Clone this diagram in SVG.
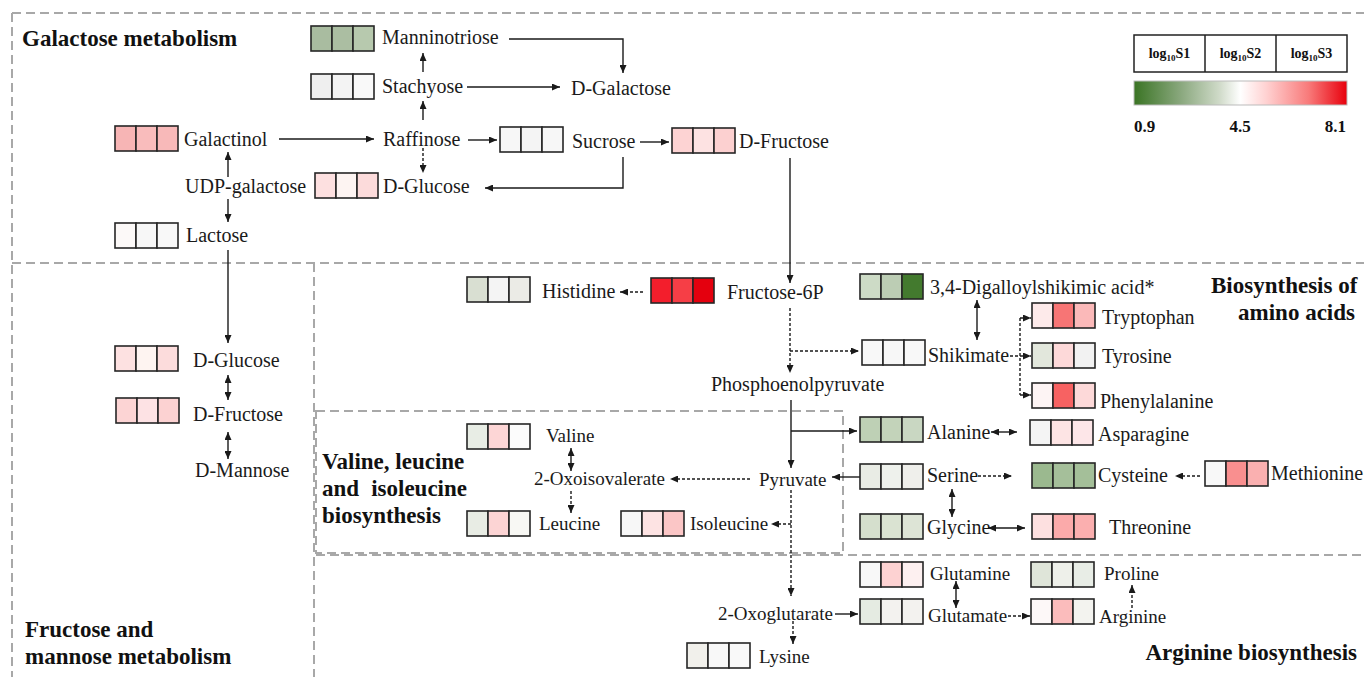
<svg xmlns="http://www.w3.org/2000/svg" width="1364" height="677" viewBox="0 0 1364 677">
<style>
.bg{fill:#ffffff}
.reg{fill:none;stroke:#a8a8a8;stroke-width:2;stroke-dasharray:9 5}
.c{stroke:#262626;stroke-width:1.6}
.t{font-family:"Liberation Serif","Times New Roman",serif;font-size:20px;fill:#1a1a1a}
.ts{font-family:"Liberation Serif","Times New Roman",serif;font-size:19px;fill:#1a1a1a}
.h{font-family:"Liberation Serif","Times New Roman",serif;font-size:23px;font-weight:bold;fill:#111}
.lg{font-family:"Liberation Serif","Times New Roman",serif;font-size:14px;font-weight:bold;fill:#111}
.lv{font-family:"Liberation Serif","Times New Roman",serif;font-size:17px;font-weight:bold;fill:#111}
.ln{fill:none;stroke:#1a1a1a;stroke-width:1.4}
.ds{stroke-dasharray:3 2}
.a{marker-end:url(#ar)}
.aa{marker-end:url(#ar);marker-start:url(#ar)}
</style>
<defs>
<marker id="ar" viewBox="0 0 8 7" refX="8" refY="3.5" markerWidth="8" markerHeight="7" markerUnits="userSpaceOnUse" orient="auto-start-reverse">
<path d="M0,0 L8,3.5 L0,7 z" fill="#1a1a1a"/>
</marker>
<linearGradient id="grad" x1="0" y1="0" x2="1" y2="0">
<stop offset="0" stop-color="#3a7424"/>
<stop offset="0.22" stop-color="#8aa87e"/>
<stop offset="0.4" stop-color="#cfdac8"/>
<stop offset="0.5" stop-color="#ffffff"/>
<stop offset="0.62" stop-color="#ffd2d2"/>
<stop offset="0.82" stop-color="#f87a7a"/>
<stop offset="1" stop-color="#e8000c"/>
</linearGradient>
</defs>
<rect class="bg" x="0" y="0" width="1364" height="677"/>

<g id="regions">
<path class="reg" d="M12,13 H1364 M12,13 V677 M12,263 H1364 M314,263 V677 M316,555 H1364"/>
<rect class="reg" x="316" y="411" width="527" height="142"/>
</g>

<g id="titles">
<text class="h" x="22" y="46">Galactose metabolism</text>
<text class="h" x="25" y="637">Fructose and</text>
<text class="h" x="25" y="664">mannose metabolism</text>
<text class="h" x="1211" y="293">Biosynthesis of</text>
<text class="h" x="1355" y="320" text-anchor="end">amino acids</text>
<text class="h" x="322" y="469">Valine, leucine</text>
<text class="h" x="322" y="496">and</text>
<text class="h" x="467" y="496" text-anchor="end">isoleucine</text>
<text class="h" x="322" y="523">biosynthesis</text>
<text class="h" x="1357" y="660" text-anchor="end">Arginine biosynthesis</text>
</g>

<g id="legend">
<rect x="1134" y="35" width="213" height="37" fill="#fff" stroke="#222" stroke-width="1.5"/>
<path d="M1205,35 V72 M1276,35 V72" stroke="#222" stroke-width="1.5"/>
<text class="lg" x="1169.5" y="58" text-anchor="middle">log<tspan font-size="9" dy="3">10</tspan><tspan dy="-3">S1</tspan></text>
<text class="lg" x="1240.5" y="58" text-anchor="middle">log<tspan font-size="9" dy="3">10</tspan><tspan dy="-3">S2</tspan></text>
<text class="lg" x="1311.5" y="58" text-anchor="middle">log<tspan font-size="9" dy="3">10</tspan><tspan dy="-3">S3</tspan></text>
<rect x="1134" y="81" width="213" height="24" fill="url(#grad)" stroke="#bbb" stroke-width="1"/>
<text class="lv" x="1134" y="132">0.9</text>
<text class="lv" x="1240" y="132" text-anchor="middle">4.5</text>
<text class="lv" x="1346" y="132" text-anchor="end">8.1</text>
</g>

<g id="connectors">
<path class="ln a" d="M279,139 H374"/>
<path class="ln a" d="M423,120 V101"/>
<path class="ln a" d="M423,72 V53"/>
<path class="ln a ds" d="M423,148 V173"/>
<path class="ln a" d="M228,177 V152"/>
<path class="ln a" d="M228,199 V222"/>
<path class="ln a" d="M509,39 H623 V73"/>
<path class="ln a" d="M467,87 H560"/>
<path class="ln a" d="M468,140 H497"/>
<path class="ln a" d="M640,142 H669"/>
<path class="ln a" d="M623,157 V188 H485"/>
<path class="ln a" d="M790,158 V283"/>
<path class="ln a" d="M228,250 V343"/>
<path class="ln aa" d="M228,375 V400"/>
<path class="ln aa" d="M228,432 V459"/>
<path class="ln a ds" d="M643,292 H620"/>
<path class="ln a ds" d="M790,308 V373"/>
<path class="ln a ds" d="M790,351 H859"/>
<path class="ln a" d="M791,400 V468"/>
<path class="ln a" d="M791,431 H857"/>
<path class="ln a" d="M860,477 H832"/>
<path class="ln a ds" d="M750,479 H670"/>
<path class="ln aa" d="M571,448 V471"/>
<path class="ln a ds" d="M571,491 V513"/>
<path class="ln a ds" d="M791,490 V596"/>
<path class="ln a ds" d="M791,524 H771"/>
<path class="ln a" d="M835,614 H858"/>
<path class="ln a ds" d="M793,621 V644"/>
<path class="ln aa" d="M956,581 V608"/>
<path class="ln a ds" d="M1008,616 H1030"/>
<path class="ln a ds" d="M1132,608 V585"/>
<path class="ln aa" d="M977,300 V340"/>
<path class="ln ds" d="M1010,356 H1020 M1020,318 V395"/>
<path class="ln a ds" d="M1020,318 H1031"/>
<path class="ln a ds" d="M1020,356 H1031"/>
<path class="ln a ds" d="M1020,395 H1031"/>
<path class="ln aa" d="M991,432 H1017"/>
<path class="ln a ds" d="M978,476 H1012"/>
<path class="ln a ds" d="M1200,476 H1175"/>
<path class="ln aa" d="M952,489 V517"/>
<path class="ln aa" d="M988,528 H1025"/>
</g>

<g id="n-manninotriose"><rect class="c" x="311" y="26" width="21" height="25" fill="#a9bca0"/><rect class="c" x="332" y="26" width="21" height="25" fill="#abbea2"/><rect class="c" x="353" y="26" width="21" height="25" fill="#b7c9ae"/><text class="t" x="382" y="44">Manninotriose</text></g>
<g id="n-stachyose"><rect class="c" x="311" y="74" width="21" height="25" fill="#efefef"/><rect class="c" x="332" y="74" width="21" height="25" fill="#f3f3f3"/><rect class="c" x="353" y="74" width="21" height="25" fill="#f9f9f9"/><text class="t" x="382" y="93">Stachyose</text></g>
<g id="n-galactinol"><rect class="c" x="115" y="126" width="21" height="25" fill="#f7b5b5"/><rect class="c" x="136" y="126" width="21" height="25" fill="#f9bcbc"/><rect class="c" x="157" y="126" width="21" height="25" fill="#f8b9b9"/><text class="t" x="184" y="146">Galactinol</text></g>
<g id="n-raffinose"><text class="t" x="383" y="146">Raffinose</text></g>
<g id="n-udpgal"><text class="t" x="185" y="193">UDP-galactose</text></g>
<g id="n-dglucose1"><rect class="c" x="315" y="173" width="21" height="25" fill="#fde0e0"/><rect class="c" x="336" y="173" width="21" height="25" fill="#fdf4f2"/><rect class="c" x="357" y="173" width="21" height="25" fill="#fcdbdb"/><text class="t" x="383" y="193">D-Glucose</text></g>
<g id="n-lactose"><rect class="c" x="115" y="223" width="21" height="25" fill="#fcf9f8"/><rect class="c" x="136" y="223" width="21" height="25" fill="#f7f7f7"/><rect class="c" x="157" y="223" width="21" height="25" fill="#f8f8f8"/><text class="t" x="186" y="242">Lactose</text></g>
<g id="n-dgalactose"><text class="t" x="571" y="95">D-Galactose</text></g>
<g id="n-sucrose"><rect class="c" x="500" y="127" width="21" height="25" fill="#f7f7f7"/><rect class="c" x="521" y="127" width="21" height="25" fill="#f4f4f4"/><rect class="c" x="542" y="127" width="21" height="25" fill="#f7f7f7"/><text class="t" x="572" y="148">Sucrose</text></g>
<g id="n-dfructose1"><rect class="c" x="672" y="128" width="21" height="25" fill="#fdd3d3"/><rect class="c" x="693" y="128" width="21" height="25" fill="#fde2e2"/><rect class="c" x="714" y="128" width="21" height="25" fill="#fcd0d0"/><text class="t" x="739" y="148">D-Fructose</text></g>

<g id="n-dglucose2"><rect class="c" x="115" y="346" width="21" height="25" fill="#fde1e1"/><rect class="c" x="136" y="346" width="21" height="25" fill="#fef4f1"/><rect class="c" x="157" y="346" width="21" height="25" fill="#fcdcdc"/><text class="t" x="193" y="367">D-Glucose</text></g>
<g id="n-dfructose2"><rect class="c" x="116" y="398" width="21" height="25" fill="#fcd4d4"/><rect class="c" x="137" y="398" width="21" height="25" fill="#fde2e4"/><rect class="c" x="158" y="398" width="21" height="25" fill="#fcd2d2"/><text class="t" x="193" y="421">D-Fructose</text></g>
<g id="n-dmannose"><text class="t" x="195" y="477">D-Mannose</text></g>

<g id="n-histidine"><rect class="c" x="467" y="277" width="21" height="25" fill="#d9dfd2"/><rect class="c" x="488" y="277" width="21" height="25" fill="#f4f4f4"/><rect class="c" x="509" y="277" width="21" height="25" fill="#ebebe6"/><text class="t" x="542" y="298">Histidine</text></g>
<g id="n-f6p"><rect class="c" x="651" y="278" width="21" height="25" fill="#f31e2c"/><rect class="c" x="672" y="278" width="21" height="25" fill="#f63e46"/><rect class="c" x="693" y="278" width="21" height="25" fill="#e4000e"/><text class="t" x="727" y="299">Fructose-6P</text></g>
<g id="n-pep"><text class="t" x="711" y="391">Phosphoenolpyruvate</text></g>
<g id="n-pyruvate"><text class="ts" x="759" y="486">Pyruvate</text></g>
<g id="n-oxoisoval"><text class="ts" x="534" y="485">2-Oxoisovalerate</text></g>
<g id="n-valine"><rect class="c" x="467" y="424" width="21" height="25" fill="#e8ede5"/><rect class="c" x="488" y="424" width="21" height="25" fill="#fdd6d6"/><rect class="c" x="509" y="424" width="21" height="25" fill="#fcfcfc"/><text class="ts" x="546" y="442">Valine</text></g>
<g id="n-leucine"><rect class="c" x="467" y="511" width="21" height="25" fill="#e8ece4"/><rect class="c" x="488" y="511" width="21" height="25" fill="#fcd4d4"/><rect class="c" x="509" y="511" width="21" height="25" fill="#f8f8f4"/><text class="ts" x="539" y="530">Leucine</text></g>
<g id="n-isoleucine"><rect class="c" x="621" y="511" width="21" height="25" fill="#f7f7f7"/><rect class="c" x="642" y="511" width="21" height="25" fill="#fde3e3"/><rect class="c" x="663" y="511" width="21" height="25" fill="#fbc6c6"/><text class="ts" x="690" y="530">Isoleucine</text></g>

<g id="n-digalloyl"><rect class="c" x="860" y="274" width="21" height="25" fill="#cddbc6"/><rect class="c" x="881" y="274" width="21" height="25" fill="#bccdb4"/><rect class="c" x="902" y="274" width="21" height="25" fill="#437a2e"/><text class="t" x="930" y="294">3,4-Digalloylshikimic acid*</text></g>
<g id="n-shikimate"><rect class="c" x="862" y="340" width="21" height="25" fill="#f8f8f8"/><rect class="c" x="883" y="340" width="21" height="25" fill="#f7f7f7"/><rect class="c" x="904" y="340" width="21" height="25" fill="#f8f8f8"/><text class="t" x="928" y="362">Shikimate</text></g>
<g id="n-tryptophan"><rect class="c" x="1032" y="303" width="21" height="25" fill="#fdeaea"/><rect class="c" x="1053" y="303" width="21" height="25" fill="#f77575"/><rect class="c" x="1074" y="303" width="21" height="25" fill="#fbb9b9"/><text class="t" x="1102" y="324">Tryptophan</text></g>
<g id="n-tyrosine"><rect class="c" x="1032" y="343" width="21" height="25" fill="#e2e7dc"/><rect class="c" x="1053" y="343" width="21" height="25" fill="#fdd9d9"/><rect class="c" x="1074" y="343" width="21" height="25" fill="#f2f2f2"/><text class="t" x="1102" y="363">Tyrosine</text></g>
<g id="n-phenylalanine"><rect class="c" x="1032" y="383" width="21" height="25" fill="#fdf4f4"/><rect class="c" x="1053" y="383" width="21" height="25" fill="#f76262"/><rect class="c" x="1074" y="383" width="21" height="25" fill="#fdd9d9"/><text class="t" x="1100" y="408">Phenylalanine</text></g>
<g id="n-alanine"><rect class="c" x="860" y="417" width="21" height="25" fill="#bed0b5"/><rect class="c" x="881" y="417" width="21" height="25" fill="#c3d3ba"/><rect class="c" x="902" y="417" width="21" height="25" fill="#c9d7c2"/><text class="t" x="927" y="439">Alanine</text></g>
<g id="n-asparagine"><rect class="c" x="1030" y="420" width="21" height="25" fill="#f4f4f4"/><rect class="c" x="1051" y="420" width="21" height="25" fill="#fde4e4"/><rect class="c" x="1072" y="420" width="21" height="25" fill="#fde6e8"/><text class="t" x="1098" y="441">Asparagine</text></g>
<g id="n-serine"><rect class="c" x="860" y="464" width="21" height="25" fill="#e9ece5"/><rect class="c" x="881" y="464" width="21" height="25" fill="#eef1ec"/><rect class="c" x="902" y="464" width="21" height="25" fill="#efefeb"/><text class="t" x="927" y="482">Serine</text></g>
<g id="n-cysteine"><rect class="c" x="1032" y="463" width="21" height="25" fill="#9bb98f"/><rect class="c" x="1053" y="463" width="21" height="25" fill="#a5bf9a"/><rect class="c" x="1074" y="463" width="21" height="25" fill="#a4bf99"/><text class="t" x="1098" y="482">Cysteine</text></g>
<g id="n-methionine"><rect class="c" x="1205" y="461" width="21" height="25" fill="#f8f8f8"/><rect class="c" x="1226" y="461" width="21" height="25" fill="#f98f8f"/><rect class="c" x="1247" y="461" width="21" height="25" fill="#fab0b0"/><text class="t" x="1271" y="480">Methionine</text></g>
<g id="n-glycine"><rect class="c" x="860" y="514" width="21" height="25" fill="#d5dfcd"/><rect class="c" x="881" y="514" width="21" height="25" fill="#dae3d2"/><rect class="c" x="902" y="514" width="21" height="25" fill="#dde4d6"/><text class="t" x="927" y="534">Glycine</text></g>
<g id="n-threonine"><rect class="c" x="1032" y="514" width="21" height="25" fill="#fde0e0"/><rect class="c" x="1053" y="514" width="21" height="25" fill="#fbaaaa"/><rect class="c" x="1074" y="514" width="21" height="25" fill="#fbafaf"/><text class="t" x="1109" y="534">Threonine</text></g>

<g id="n-oxoglutarate"><text class="ts" x="718" y="620">2-Oxoglutarate</text></g>
<g id="n-lysine"><rect class="c" x="687" y="643" width="21" height="25" fill="#f1f0eb"/><rect class="c" x="708" y="643" width="21" height="25" fill="#f8f8f8"/><rect class="c" x="729" y="643" width="21" height="25" fill="#f9f9f9"/><text class="ts" x="759" y="663">Lysine</text></g>
<g id="n-glutamine"><rect class="c" x="860" y="562" width="21" height="25" fill="#f8f8f8"/><rect class="c" x="881" y="562" width="21" height="25" fill="#fdd2d2"/><rect class="c" x="902" y="562" width="21" height="25" fill="#fdf0f0"/><text class="ts" x="930" y="580">Glutamine</text></g>
<g id="n-proline"><rect class="c" x="1031" y="562" width="21" height="25" fill="#dfe5d9"/><rect class="c" x="1052" y="562" width="21" height="25" fill="#eef0ea"/><rect class="c" x="1073" y="562" width="21" height="25" fill="#e8ede6"/><text class="ts" x="1104" y="580">Proline</text></g>
<g id="n-glutamate"><rect class="c" x="860" y="599" width="21" height="25" fill="#e5ebe2"/><rect class="c" x="881" y="599" width="21" height="25" fill="#f3f2ef"/><rect class="c" x="902" y="599" width="21" height="25" fill="#f3f2ef"/><text class="ts" x="928" y="622">Glutamate</text></g>
<g id="n-arginine"><rect class="c" x="1031" y="599" width="21" height="25" fill="#fdf8f8"/><rect class="c" x="1052" y="599" width="21" height="25" fill="#fbbcbc"/><rect class="c" x="1073" y="599" width="21" height="25" fill="#f3f3ef"/><text class="ts" x="1099" y="623">Arginine</text></g>
</svg>
